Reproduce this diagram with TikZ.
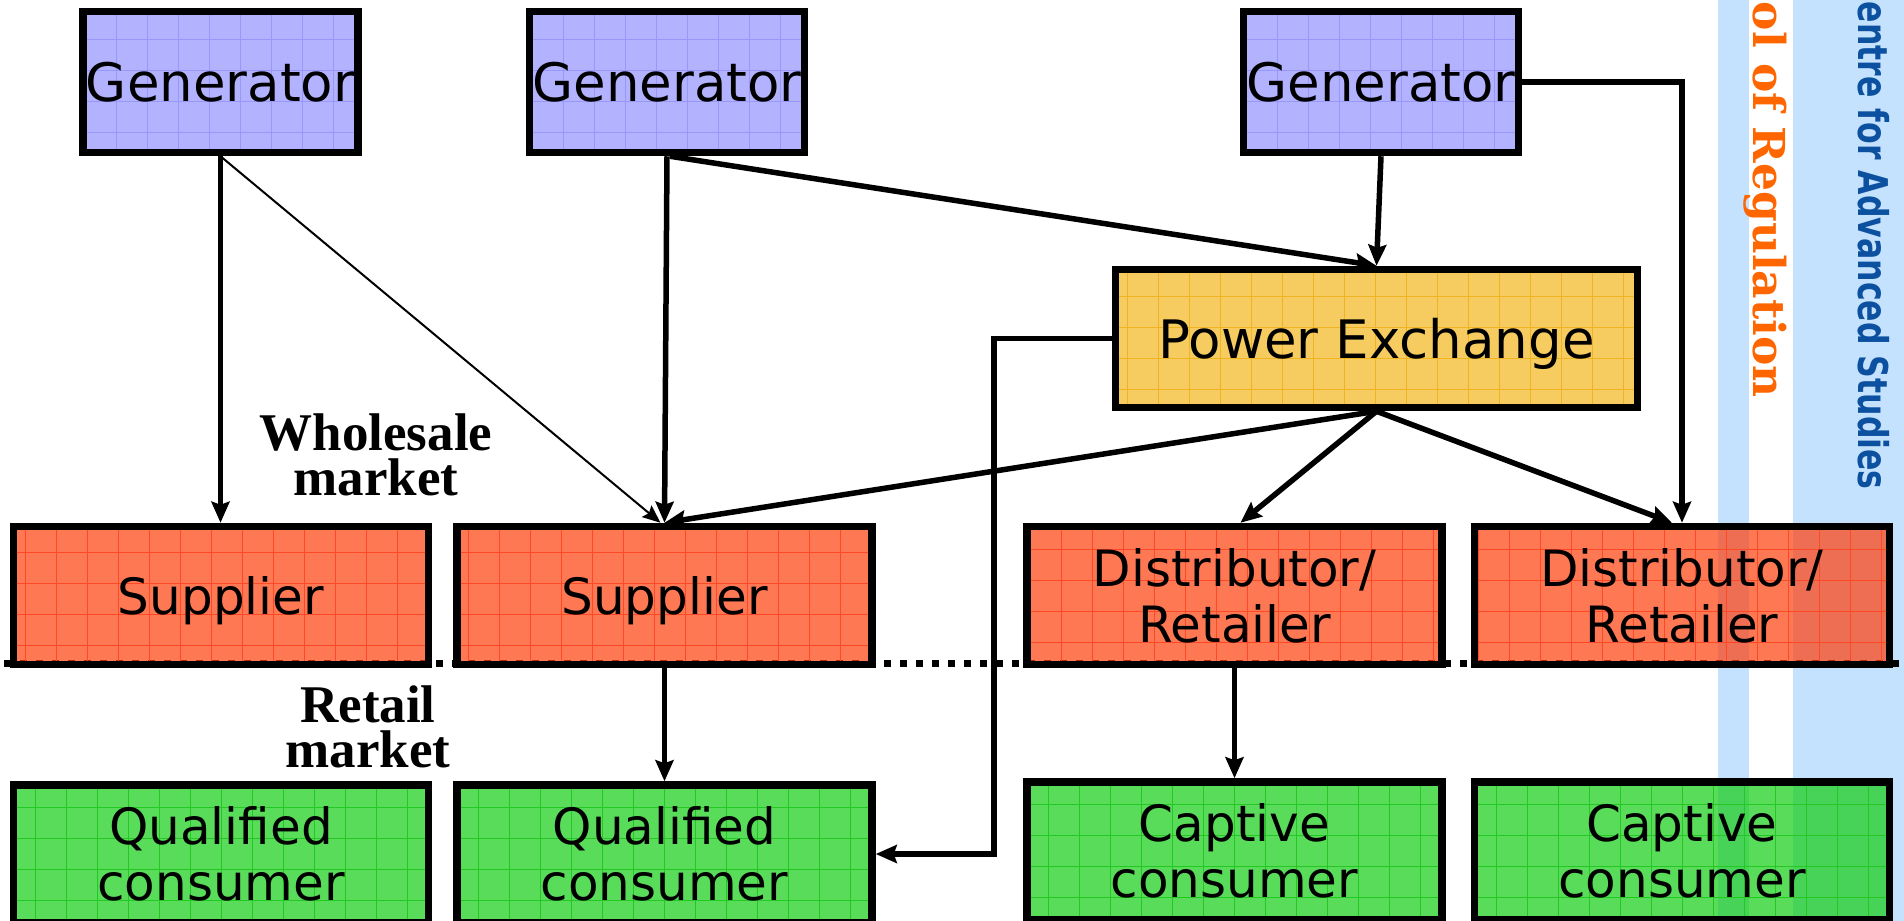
\documentclass[tikz,border=0pt]{standalone}
\usepackage{fontspec}
\usepackage{graphicx}
\setmainfont{DejaVu Sans}
\newfontfamily\mktfont{Liberation Serif}
\newfontfamily\slabfont{DejaVu Serif}
\newfontfamily\bandfont{DejaVu Sans}
\usetikzlibrary{arrows.meta,calc}

\definecolor{genfill}{RGB}{178,178,255}
\definecolor{gengrid}{RGB}{152,152,250}
\definecolor{pxfill}{RGB}{246,204,96}
\definecolor{pxgrid}{RGB}{240,180,35}
\definecolor{redfill}{RGB}{255,62,12}
\definecolor{redgrid}{RGB}{255,72,38}
\definecolor{grnfill}{RGB}{19,205,19}
\definecolor{grngrid}{RGB}{35,200,35}
\definecolor{bandblue}{RGB}{196,225,253}
\definecolor{regorange}{RGB}{255,102,0}
\definecolor{casblue}{RGB}{12,80,160}

\tikzset{
  gridfill/.style={path picture={
      \draw[#1, line width=0.9pt, step=31pt]
        (path picture bounding box.south west) grid (path picture bounding box.north east);}},
  box/.style={draw=black, line width=7.5pt, inner sep=0pt,
      font=\fontsize{50}{56}\selectfont, text=black},
  oneline/.style={text depth=0pt},
  genbox/.style={box, oneline, fill=genfill, gridfill=gengrid,
      minimum width=275pt, minimum height=141pt,
      font=\fontsize{53}{60}\selectfont},
  pxbox/.style={box, oneline, fill=pxfill, gridfill=pxgrid,
      minimum width=522pt, minimum height=138pt,
      font=\fontsize{53}{60}\selectfont},
  redbox/.style={box, fill=redfill, fill opacity=0.7, text opacity=1,
      gridfill=redgrid, minimum width=415pt, minimum height=138pt},
  grnbox/.style={box, align=center, fill=grnfill, fill opacity=0.7,
      text opacity=1, gridfill=grngrid,
      minimum width=415pt, minimum height=138pt},
  conn/.style={line width=5.5pt, draw=black,
      -{Stealth[length=21pt,width=18pt,inset=3pt]}},
  thinconn/.style={line width=2pt, draw=black,
      -{Stealth[length=18pt,width=15pt,inset=3pt]}},
  mktlabel/.style={align=center, inner sep=0pt,
      font=\mktfont\bfseries\fontsize{53}{45}\selectfont},
}

\begin{document}
\begin{tikzpicture}[x=1pt,y=-1pt]
\useasboundingbox (0,0) rectangle (1904,921);
\clip (0,0) rectangle (1904,921);

% side bands
\fill[bandblue] (1718,0) rectangle (1749,921);
\fill[bandblue] (1793,0) rectangle (1904,921);

% dotted border between wholesale and retail levels
\coordinate (sepL) at (4,663);
\coordinate (sepR) at (1902,663);
\draw[line width=7pt, dash pattern=on 7pt off 9pt] (sepL) -- (sepR);

% generators
\node[genbox] (g1) at (220.5,82) {Generator};
\node[genbox] (g2) at (667,82) {Generator};
\node[genbox] (g3) at (1381,82) {Generator};

% power exchange
\node[pxbox] (pe) at (1376.5,338.5) {Power Exchange};

% wholesale buyers
\node[redbox, oneline] (s1) at (221,595.5) {Supplier};
\node[redbox, oneline] (s2) at (664.5,595.5) {Supplier};
\node[redbox, align=center] (d1) at (1234.5,595.5) {Distributor/\\Retailer};
\node[redbox, align=center] (d2) at (1682,595.5) {Distributor/\\Retailer};

% consumers
\node[grnbox] (q1) at (221,854) {Qualified\\consumer};
\node[grnbox] (q2) at (664.5,854) {Qualified\\consumer};
\node[grnbox] (c1) at (1234.5,851) {Captive\\consumer};
\node[grnbox] (c2) at (1682,851) {Captive\\consumer};

% flows
\draw[conn] (g1.south) -- (g1.south |- s1.north);
\draw[thinconn] (g1.south) -- ($(s2.north)+(-4,0)$);
\draw[conn] (g2.south) -- (s2.north);
\draw[conn] ($(g2.south)+(3,0)$) -- (pe.north);
\draw[conn] (g3.south) -- (pe.north);
\draw[conn] (g3.east) -| (d2.north);
\draw[conn] (pe.south) -- (s2.north);
\draw[conn] (pe.south) -- ($(d1.north)+(6,0)$);
\draw[conn] (pe.south) -- ($(d2.north)+(-10,0)$);
\draw[conn] (pe.west) -- ++(-118,0) |- (q2.east);
\draw[conn] (s2.south) -- (q2.north);
\draw[conn] (d1.south) -- (c1.north);

% market levels
\node[mktlabel] (wm) at (376,455) {Wholesale\\market};
\node[mktlabel] (rm) at (368,727) {Retail\\market};

% band captions
\node[rotate=-90, anchor=base east, inner sep=0pt, text=regorange,
      font=\slabfont\bfseries\fontsize{44}{44}\selectfont]
      (sor) at (1753,398) {School of Regulation};
\node[rotate=-90, anchor=base east, inner sep=0pt, text=casblue,
      font=\bandfont\bfseries\fontsize{41}{41}\selectfont]
      (cas) at (1858,490) {\scalebox{0.77}[1]{Centre for Advanced Studies}};
\end{tikzpicture}
\end{document}
